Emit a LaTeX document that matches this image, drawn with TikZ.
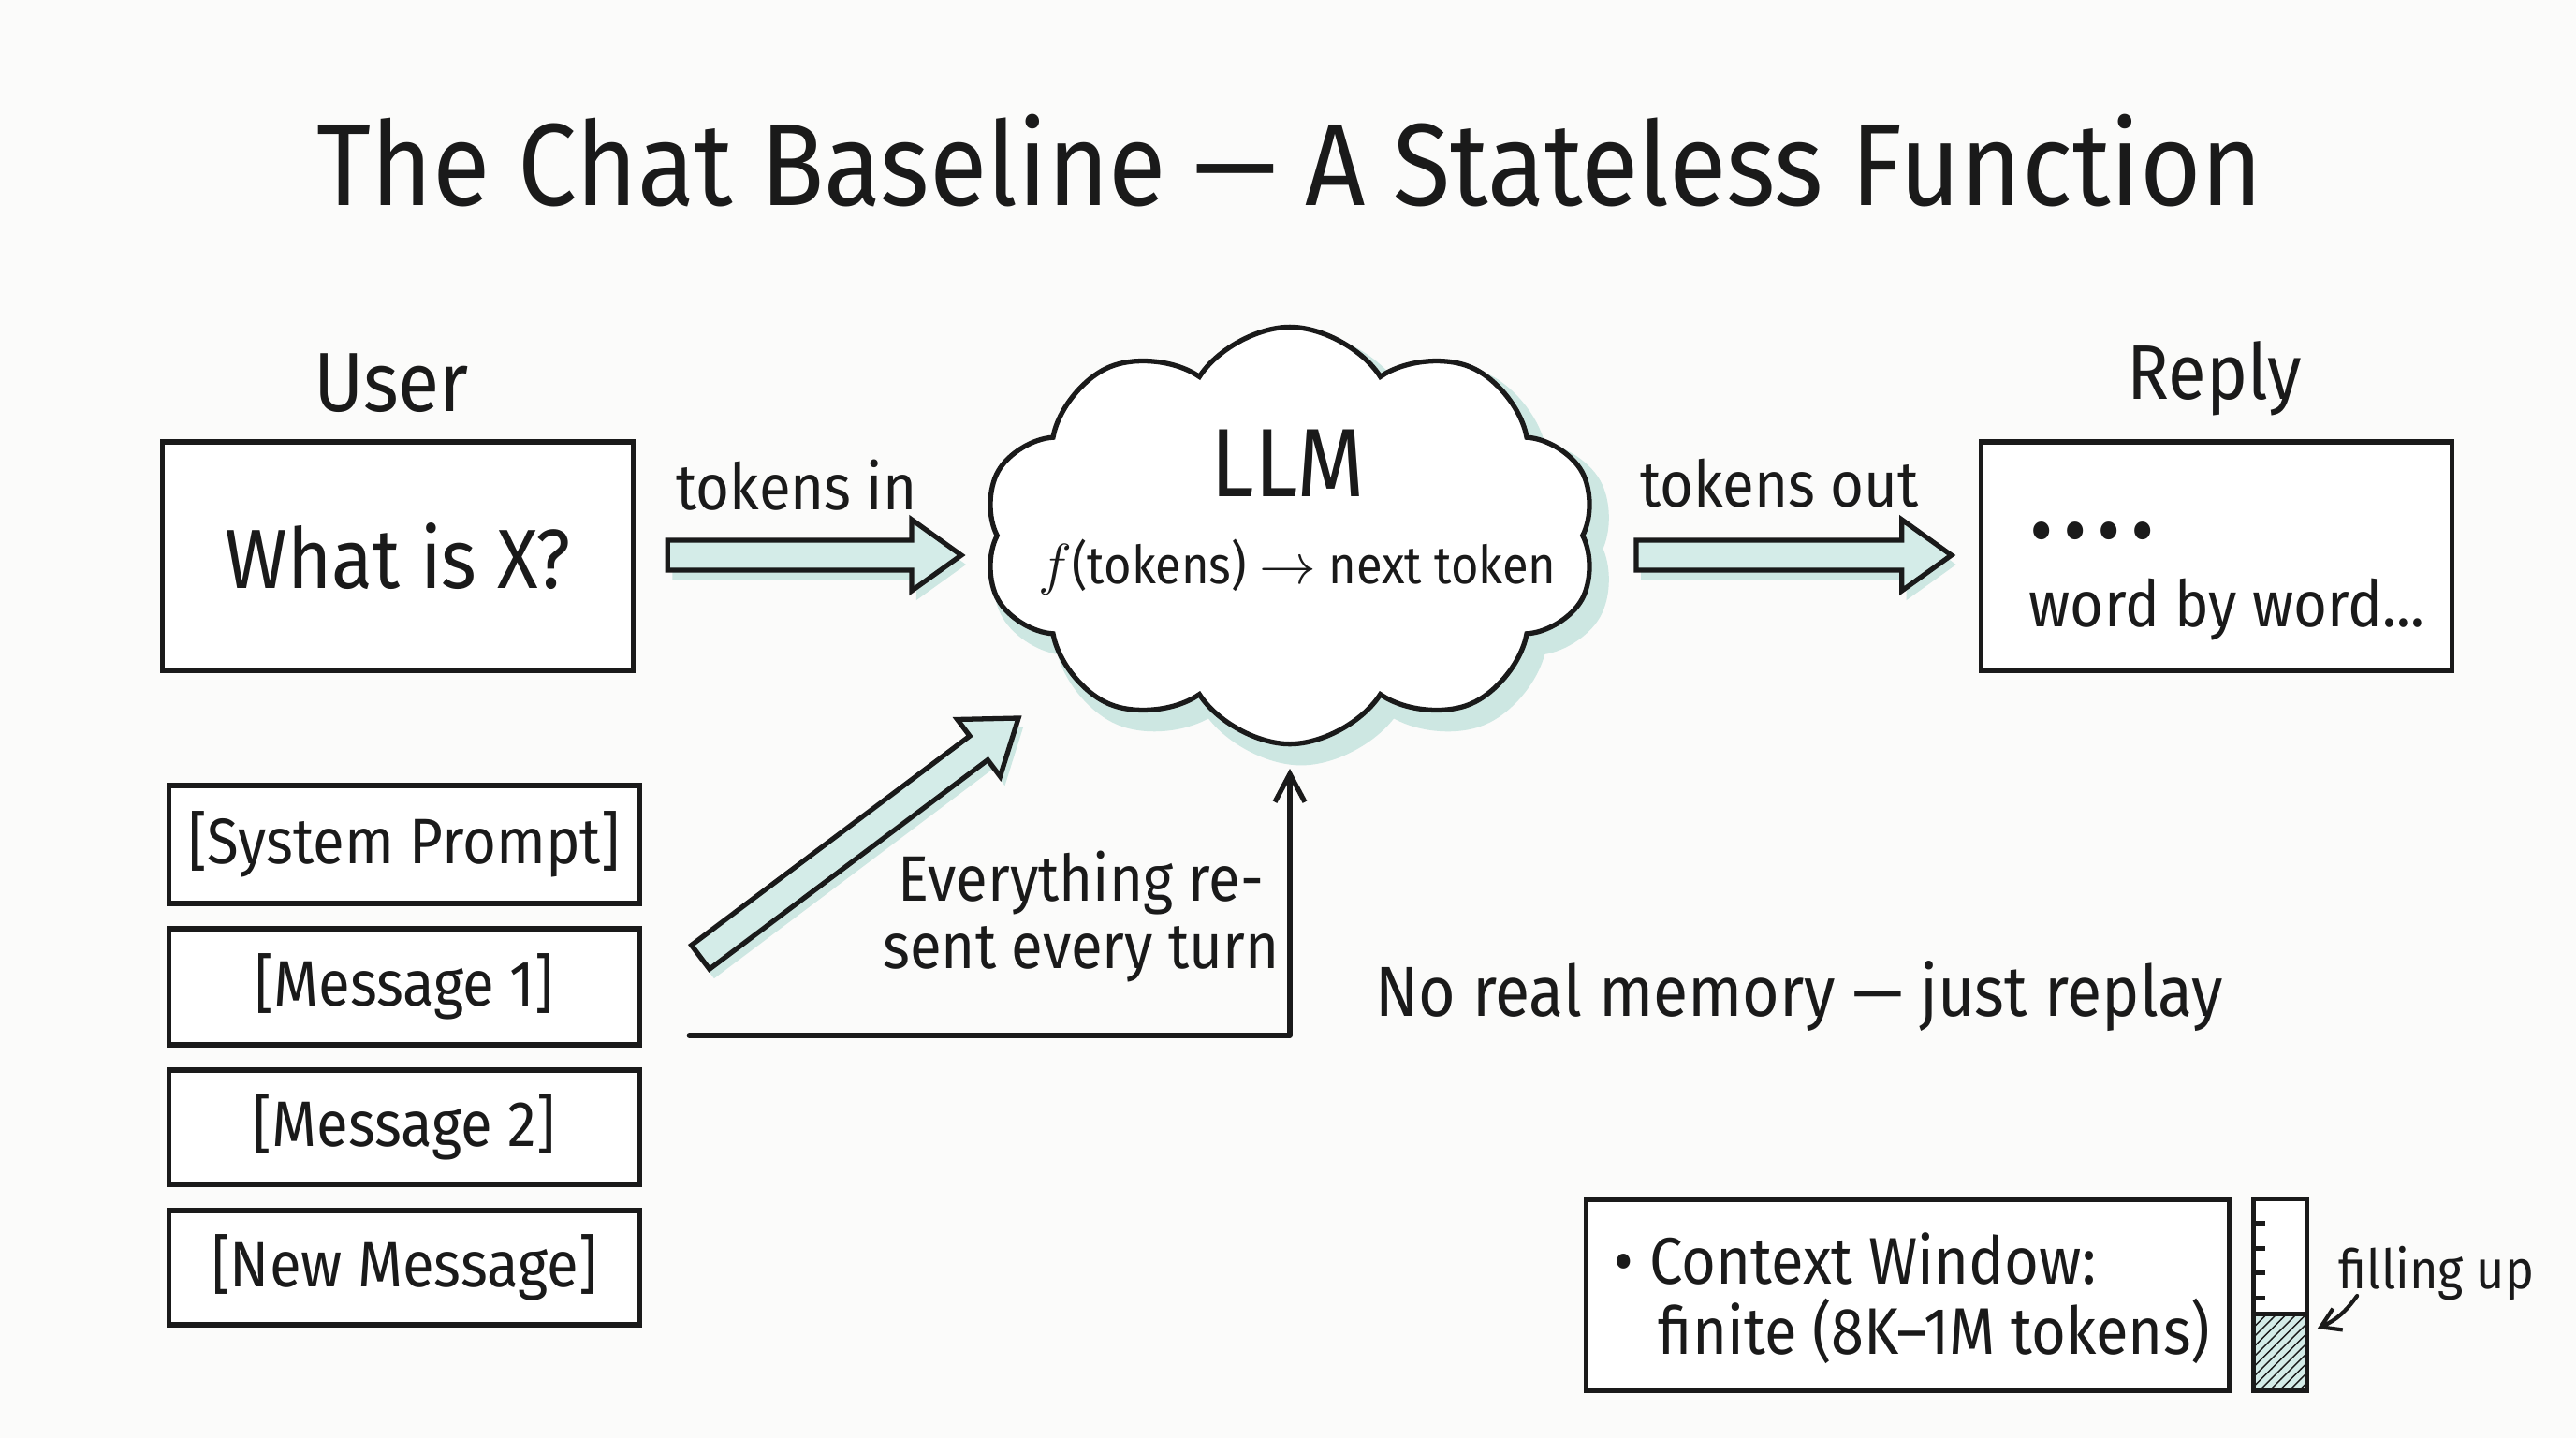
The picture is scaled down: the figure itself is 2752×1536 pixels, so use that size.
\documentclass[tikz,border=0pt]{standalone}
\usepackage{fontspec}
\setmainfont{Fira Sans}[FakeStretch=0.9]
\usetikzlibrary{shapes.symbols,calc,arrows.meta,patterns}
\definecolor{ink}{HTML}{1A1A1A}
\definecolor{mint}{HTML}{D4ECE8}
\definecolor{mintshadow}{HTML}{CDE7E2}
\definecolor{paper}{HTML}{FBFBFA}
\newcommand\fatpoly[3]{%
  \coordinate (fa-n) at ($(#2)!0.53cm!(#1)$);
  \path[#3] ($(#1)!0.16cm!90:(#2)$) -- ($(fa-n)!0.16cm!90:(#2)$) -- ($(fa-n)!0.38cm!90:(#2)$) -- (#2)
    -- ($(fa-n)!0.38cm!-90:(#2)$) -- ($(fa-n)!0.16cm!-90:(#2)$) -- ($(#1)!0.16cm!-90:(#2)$) -- cycle;
}
\newcommand\fatarrow[2]{%
  \coordinate (fs-a) at ($(#1)+(5,10)$);
  \coordinate (fs-b) at ($(#2)+(5,10)$);
  \fatpoly{fs-a}{fs-b}{fill=mintshadow}
  \fatpoly{#1}{#2}{fill=mint,draw=ink,line width=1.5pt,line join=miter}
}
\tikzset{
  txt/.style={text=ink, inner sep=0pt},
  titlef/.style={font=\fontsize{35.5}{40}\selectfont},
  bigf/.style={font=\fontsize{25.5}{30}\selectfont},
  midf/.style={font=\fontsize{19.5}{20.5}\selectfont},
  smallf/.style={font=\fontsize{16.5}{20}\selectfont},
  box/.style={draw=ink, line width=1.5pt, fill=white, inner sep=0pt, text=ink},
  cloudshape/.style={cloud, cloud puffs=10, cloud puff arc=115, cloud ignores aspect,
    minimum width=6.55cm, minimum height=4.45cm, inner sep=0pt},
  thinarrow/.style={draw=ink, line width=1.5pt, line cap=round, line join=round,
    -{Straight Barb[length=0.3cm,width=0.32cm,line width=1.5pt]}},
}
\begin{document}
\begin{tikzpicture}[x=0.01cm, y=-0.01cm]
\useasboundingbox (0,0) rectangle (2752,1536);
\fill[paper] (0,0) rectangle (2752,1536);

% title
\node[txt, titlef] (title) at (1378,172) {The Chat Baseline — A Stateless Function};

% user side
\node[txt, bigf] (userlbl) at (418,409) {User};
\node[box, bigf, minimum width=5.03cm, minimum height=2.44cm] (user) at (425,594) {What is X?};

% reply side
\node[txt, font=\fontsize{23.5}{28}\selectfont] (replylbl) at (2366,404) {Reply};
\node[box, minimum width=5.03cm, minimum height=2.44cm] (reply) at (2368,594) {};
\node[txt, midf, anchor=west] (dots) at (2170,574) {\textbf{• • • •}};
\node[txt, midf, anchor=west] (wbw) at (2167,651) {word by word...};

% cloud
\node[cloudshape, fill=mintshadow, draw=mintshadow, line width=5pt] (llmsh) at (1390,586) {};
\node[cloudshape, fill=white, draw=ink, line width=1.5pt] (llm) at (1378,572) {};
\node[txt, font=\fontsize{29.5}{32}\selectfont] (llmtxt) at (1376,495) {LLM};
\node[txt, font=\fontsize{16}{18}\selectfont] (ftxt) at (1386,606) {$f$(tokens) $\rightarrow$ next token};

% labels on arrows
\node[txt, midf] (tin) at (851,518) {tokens in};
\node[txt, midf] (tout) at (1901,516) {tokens out};

% fat arrows
\coordinate (ain1) at ($(user.east)+(34,-1)$);
\coordinate (ain2) at ($(llm.center)+(-351,21)$);
\fatarrow{ain1}{ain2}
\coordinate (aout1) at ($(llm.center)+(370,21)$);
\coordinate (aout2) at ($(reply.west)+(-29,-1)$);
\fatarrow{aout1}{aout2}

% stack
\node[box, midf, minimum width=5.03cm, minimum height=1.26cm] (sys) at (432,902) {[System Prompt]};
\node[box, midf, minimum width=5.03cm, minimum height=1.24cm] (m1) at (432,1054) {[Message 1]};
\node[box, midf, minimum width=5.03cm, minimum height=1.22cm] (m2) at (432,1204) {[Message 2]};
\node[box, midf, minimum width=5.03cm, minimum height=1.22cm] (nm) at (432,1354) {[New Message]};

% diagonal arrow
\coordinate (d1) at ($(m1.north east)+(62,33)$);
\coordinate (d2) at ($(llm.center)+(-290,195)$);
\fatarrow{d1}{d2}

% L arrow
\coordinate (lstart) at ($(m1.east)+(50,52)$);
\draw[thinarrow] (lstart) -- (lstart -| llm.center) -- ($(llm.center)+(0,249)$);
\node[txt, midf, align=center] (resent) at (1155,979) {Everything re-\\sent every turn};

\node[txt, font=\fontsize{21.5}{24}\selectfont] (nomem) at (1922,1064) {No real memory — just replay};

% context window
\node[box, minimum width=6.87cm, minimum height=2.04cm] (ctx) at (2038,1383) {};
\node[txt, font=\fontsize{20}{24}\selectfont, anchor=west] (ctx1) at (1724,1344) {• Context Window:};
\node[txt, font=\fontsize{20}{24}\selectfont, anchor=west] (ctx2) at (1771,1422) {finite (8K–1M tokens)};

% gauge
\node[minimum width=0.56cm, minimum height=2.04cm, inner sep=0pt] (gauge) at (2436,1383) {};
\fill[white] (gauge.south west) rectangle (gauge.north east);
\fill[mint] (gauge.south west) rectangle ($(gauge.north east)+(0,123)$);
\fill[pattern=north east lines, pattern color=ink] (gauge.south west) rectangle ($(gauge.north east)+(0,123)$);
\draw[ink, line width=1.5pt] (gauge.south west) rectangle (gauge.north east);
\draw[ink, line width=1.5pt] ($(gauge.north east)+(0,123)$) -- ($(gauge.north west)+(0,123)$);
\foreach \t in {26,53,79,106}{
  \draw[ink, line width=1.5pt] ($(gauge.north west)+(0,\t)$) -- +(13,0);
}
\node[txt, smallf] (filltxt) at (2603,1360) {filling up};
\draw[thinarrow, -{Straight Barb[length=0.2cm,width=0.25cm,line width=1.2pt]}, line width=1.2pt]
  ($(filltxt.west)+(20,24)$) to[bend left=15] ($(gauge.east)+(11,36)$);
\end{tikzpicture}
\end{document}
